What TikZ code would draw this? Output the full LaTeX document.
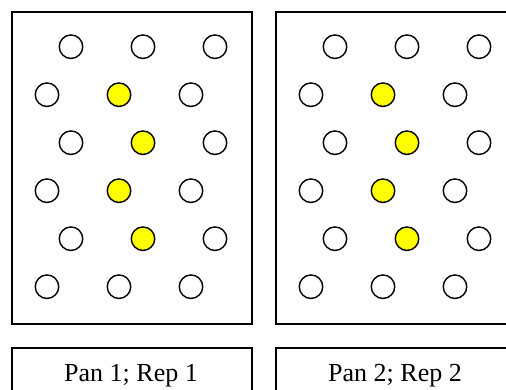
\documentclass[tikz,border=0pt]{standalone}
\usepackage{fontspec}
\setmainfont{Liberation Serif}
\definecolor{dotyellow}{RGB}{255,255,0}
\tikzset{
  panelbox/.style={draw=black, line width=2pt, minimum width=240pt, minimum height=312pt, inner sep=0pt, anchor=north west},
  labelbox/.style={draw=black, line width=2pt, minimum width=240pt, minimum height=56pt, inner sep=0pt, anchor=north west},
  plant/.style={circle, draw=black, line width=1.4pt, fill=white, minimum size=23.5pt, inner sep=0pt},
  yplant/.style={plant, fill=dotyellow},
  labeltext/.style={font=\fontsize{26}{30}\selectfont, inner sep=0pt, anchor=base}
}
\begin{document}
\begin{tikzpicture}[x=1pt, y=-1pt]
\useasboundingbox (0,0) rectangle (506,390);
\clip (0,0) rectangle (506,390);
\foreach \p/\dx in {1/0, 2/264} {
  \node[panelbox] (panel\p) at (11+\dx, 11) {};
  \node[labelbox] (lab\p) at (11+\dx, 347) {};
  \node[labeltext] (labtext\p) at (131+\dx, 381.5) {Pan \p; Rep \p};
  \foreach \r in {1,...,6} {
    \foreach \c in {1,2,3} {
      \pgfmathsetmacro{\yy}{46.7+48*(\r-1)}
      \pgfmathsetmacro{\xx}{(isodd(\r) ? 71 : 47) + 72*(\c-1) + \dx}
      \pgfmathtruncatemacro{\isy}{((\r==2 || \r==4) && \c==2) || ((\r==3 || \r==5) && \c==2) ? 1 : 0}
      \ifnum\isy=1
        \node[yplant] (c\p-\r-\c) at (\xx, \yy) {};
      \else
        \node[plant] (c\p-\r-\c) at (\xx, \yy) {};
      \fi
    }
  }
}
\end{tikzpicture}
\end{document}
